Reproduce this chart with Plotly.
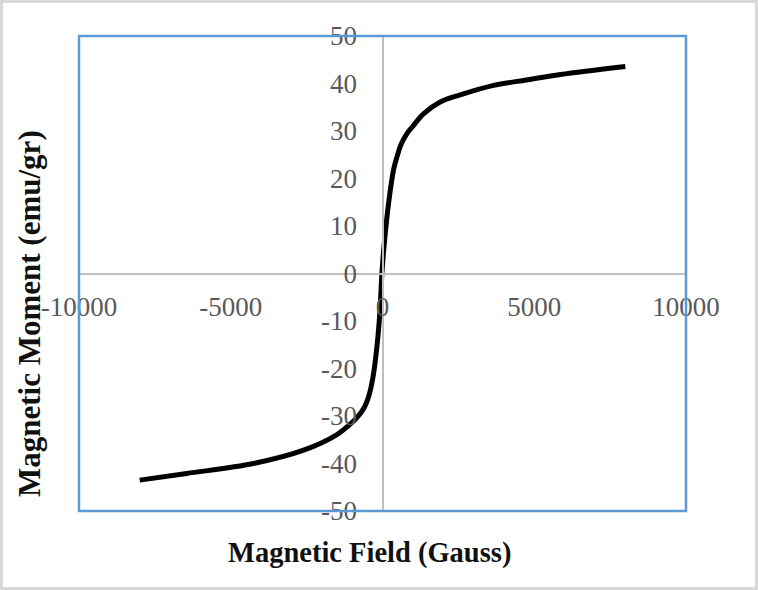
import plotly.graph_objects as go

# Magnetization curve
field = [-8000, -6450, -4250, -2600, -1500, -1100, -850, -600, -450, -300, -170, -80, -20,
         40, 140, 250, 370, 480, 600, 800, 1000, 1350, 1900, 2560, 3660, 4800, 5860, 8000]
moment = [-43.5, -42.1, -40.0, -37.2, -33.9, -31.9, -30.4, -28.2, -25.8, -21.3, -14.6, -7.5, 0.0,
          5.0, 11.5, 17.2, 22.0, 24.6, 27.0, 29.4, 31.0, 33.6, 36.1, 37.6, 39.6, 40.8, 41.9, 43.6]

x_ticks = [-10000, -5000, 0, 5000, 10000]
y_ticks = [-50, -40, -30, -20, -10, 0, 10, 20, 30, 40, 50]

W, H = 758, 590
ml, mr, mt, mb = 79, 72, 36, 79
pw, ph = W - ml - mr, H - mt - mb

fig = go.Figure(go.Scatter(x=field, y=moment, mode='lines',
                           line=dict(color='black', width=5, shape='spline', smoothing=1.0),
                           showlegend=False, hoverinfo='skip'))

tick_font = dict(family='Liberation Serif, Times New Roman, serif', size=27, color='#595959')
title_font = dict(family='Liberation Serif, Times New Roman, serif', color='#111111')

fig.update_layout(
    width=W, height=H,
    margin=dict(l=ml, r=mr, t=mt, b=mb),
    paper_bgcolor='white', plot_bgcolor='white',
    xaxis=dict(range=[-10000, 10000], tickvals=x_ticks, ticktext=[str(v) for v in x_ticks],
               showgrid=False, zeroline=False, showline=True, linecolor='#BFBFBF', linewidth=2,
               anchor='free', position=0.5, ticks='', tickfont=tick_font, ticklabelstandoff=9),
    yaxis=dict(range=[-50, 50], tickvals=y_ticks, ticktext=[str(v) for v in y_ticks],
               showgrid=False, zeroline=False, showline=True, linecolor='#BFBFBF', linewidth=2,
               anchor='free', position=0.5, ticks='', tickfont=tick_font, ticklabelstandoff=19),
    shapes=[
        dict(type='rect', xref='paper', yref='paper', x0=0, x1=1, y0=0, y1=1,
             line=dict(color='#5B9BD5', width=2.5)),
        dict(type='rect', xref='paper', yref='paper',
             x0=(-ml + 1.5) / pw, x1=1 + (mr - 1.5) / pw,
             y0=-(mb - 1.5) / ph, y1=1 + (mt - 1.5) / ph,
             line=dict(color='#D9D9D9', width=3)),
    ],
    annotations=[
        dict(text='<b>Magnetic Field (Gauss)</b>', xref='paper', yref='paper',
             x=(369.5 - ml) / pw, y=(H - mb - 553) / ph, showarrow=False,
             xanchor='center', yanchor='middle', font=dict(size=28.5, **title_font)),
        dict(text='<b>Magnetic Moment (emu/gr)</b>', xref='paper', yref='paper',
             x=(29 - ml) / pw, y=(H - mb - 314) / ph, showarrow=False, textangle=-90,
             xanchor='center', yanchor='middle', font=dict(size=31, **title_font)),
    ],
)

# drop the page's default body margin so the figure sits at the window corner
fig.write_html("out.html", config={'displayModeBar': False},
               post_script="document.body.style.margin='0';")
